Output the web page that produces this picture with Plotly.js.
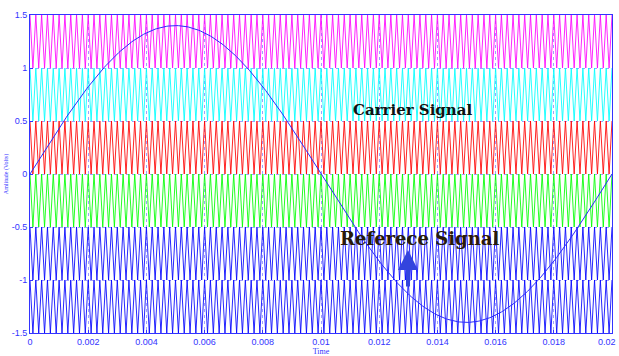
<!DOCTYPE html>
<html>
<head>
<meta charset="utf-8">
<script src="https://cdn.plot.ly/plotly-3.0.1.min.js"></script>
<style>html,body{margin:0;padding:0;background:#fff;overflow:hidden;}#chart{width:619px;height:356px;}</style>
</head>
<body>
<div id="chart"></div>
<script>
// ---- data ----
var timeStart = 0;
var timeEnd = 0.02;
var carrierCycles = 100;              // triangle periods across the window
var bandLower = [1, 0.5, 0, -0.5, -1, -1.5];
var bandUpper = [1.5, 1, 0.5, 0, -0.5, -1];
var refAmplitude = 1.4;
var refFrequency = 50;                // Hz (one period over 0.02 s)
var refSamples = 400;
var xTickVals = [0, 0.002, 0.004, 0.006, 0.008, 0.01, 0.012, 0.014, 0.016, 0.018];
var xTickText = ['0', '0.002', '0.004', '0.006', '0.008', '0.01', '0.012', '0.014', '0.016', '0.018'];
var xLastTickVal = 0.02;
var xLastTickText = '0.02';
var yTickVals = [-1.5, -1, -0.5, 0, 0.5, 1, 1.5];
var yTickText = ['-1.5', '-1', '-0.5', '0', '0.5', '1', '1.5'];

// ---- styles ----
var bandColors = ['#ff00ff', '#00ffff', '#ff0000', '#00ff00', '#0000ff', '#0000ff'];
var refColor = '#2a2aff';
var axisColor = '#3333ff';

var traces = [];
var halfStep = (timeEnd - timeStart) / carrierCycles / 2;
for (var b = 0; b < bandLower.length; b++) {
  var xs = [], ys = [];
  for (var k = 0; k <= carrierCycles * 2; k++) {
    xs.push(timeStart + k * halfStep);
    ys.push(k % 2 === 0 ? bandUpper[b] : bandLower[b]);
  }
  traces.push({x: xs, y: ys, type: 'scatter', mode: 'lines',
    line: {color: bandColors[b], width: 1}, opacity: 0.85, hoverinfo: 'skip', showlegend: false});
}
var rx = [], ry = [];
for (var i = 0; i <= refSamples; i++) {
  var t = timeStart + (timeEnd - timeStart) * i / refSamples;
  rx.push(t);
  ry.push(refAmplitude * Math.sin(2 * Math.PI * refFrequency * t));
}
traces.push({x: rx, y: ry, type: 'scatter', mode: 'lines',
  line: {color: refColor, width: 1}, showlegend: false});

var tickFont = {family: 'Liberation Sans, Arial, sans-serif', size: 9, color: axisColor};
var layout = {
  width: 619, height: 356,
  margin: {l: 30, r: 7, t: 15, b: 23},
  paper_bgcolor: '#ffffff', plot_bgcolor: '#ffffff',
  showlegend: false,
  xaxis: {
    range: [timeStart, timeEnd], tickvals: xTickVals, ticktext: xTickText,
    tickfont: tickFont, showline: true, mirror: true, linecolor: axisColor, linewidth: 1,
    showgrid: true, gridcolor: '#a0a0ff', griddash: 'dot', gridwidth: 1,
    zeroline: false, ticks: 'inside', ticklen: 3, tickcolor: axisColor,
    title: {text: 'Time', font: {family: 'Liberation Serif, serif', size: 8, color: axisColor}, standoff: 3}
  },
  yaxis: {
    range: [-1.5, 1.5], tickvals: yTickVals, ticktext: yTickText,
    tickfont: tickFont, showline: true, mirror: true, linecolor: axisColor, linewidth: 1,
    showgrid: true, gridcolor: '#a0a0ff', griddash: 'dot', gridwidth: 1,
    zeroline: false, ticks: 'inside', ticklen: 3, tickcolor: axisColor,
    title: {text: 'Amlitude (Volts)', font: {family: 'Liberation Serif, serif', size: 6, color: axisColor}, standoff: 2}
  },
  annotations: [
    {x: xLastTickVal, y: 0, xref: 'x', yref: 'paper', text: xLastTickText, showarrow: false,
     xanchor: 'right', xshift: 6, yanchor: 'top', yshift: -2, font: tickFont},
    {x: 0.01313, y: 0.604, xref: 'x', yref: 'y', text: '<b>Carrier Signal</b>', showarrow: false,
     font: {family: 'DejaVu Serif, serif', size: 15, color: '#111111'}},
    {x: 0.01337, y: -0.613, xref: 'x', yref: 'y', text: '<b>Referece Signal</b>', showarrow: false,
     font: {family: 'DejaVu Serif, serif', size: 18, color: '#2a1a08'}},
    {x: 0.01299, y: -0.717, xref: 'x', yref: 'y', text: '', showarrow: true,
     ax: 0, ay: 38, arrowcolor: '#3344dd', arrowwidth: 4, arrowhead: 2, arrowsize: 1}
  ]
};
Plotly.newPlot('chart', traces, layout, {displayModeBar: false, staticPlot: true});
</script>
</body>
</html>
